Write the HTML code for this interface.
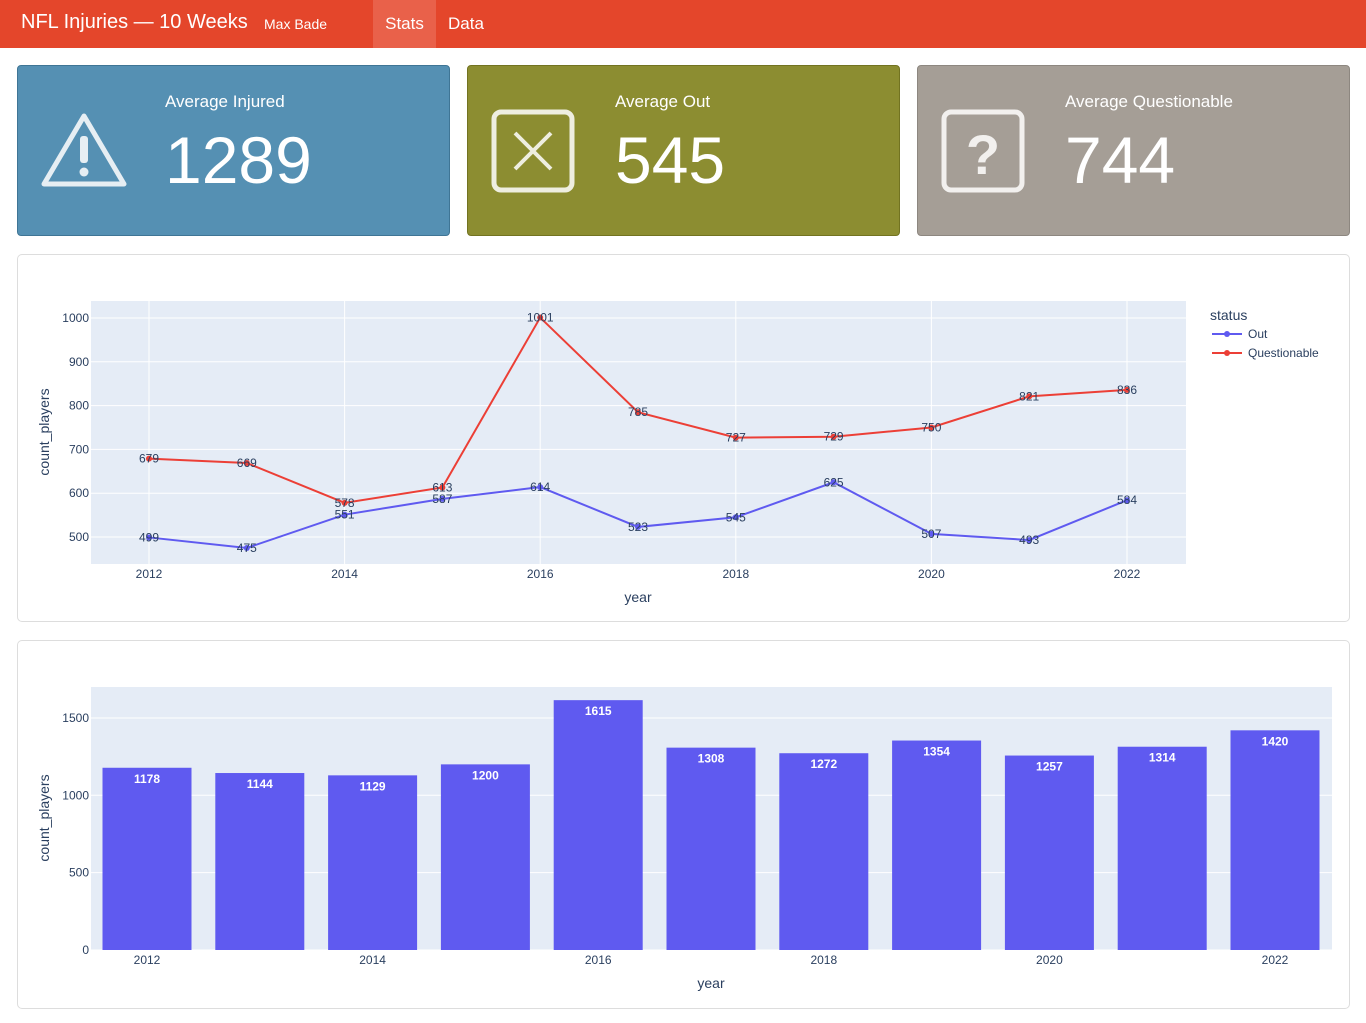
<!DOCTYPE html>
<html><head><meta charset="utf-8"><style>
body{margin:0;width:1366px;height:1023px;background:#fff;font-family:"Liberation Sans",sans-serif;overflow:hidden;position:relative}
.nav{position:absolute;left:0;top:0;width:1366px;height:48px;background:#e4462b;color:#fff}
.card{position:absolute;top:65px;height:169px;width:431px;border-radius:4px;color:#fff}
.card .t{position:absolute;left:147px;top:26px;font-size:17px}
.card .v{position:absolute;left:147px;top:56px;font-size:66px}
.panel{position:absolute;left:17px;width:1331px;border:1px solid #ddd;border-radius:5px;background:#fff}
svg text{font-family:"Liberation Sans",sans-serif}
</style></head><body>
<div class="nav">
<span style="position:absolute;left:21px;top:11px;font-size:20px">NFL Injuries — 10 Weeks</span>
<span style="position:absolute;left:264px;top:16px;font-size:14px">Max Bade</span>
<div style="position:absolute;left:373px;top:0;width:63px;height:48px;background:#e9614a;text-align:center;line-height:48px;font-size:17px">Stats</div>
<div style="position:absolute;left:448px;top:0;height:48px;line-height:48px;font-size:17px">Data</div>
</div>
<div class="card" style="left:17px;background:#5590b3;border:1px solid #3f7595">
<svg style="position:absolute;left:22px;top:46px" width="88" height="78"><path d="M44 4 L84 72 L4 72 Z" fill="none" stroke="#e6eef3" stroke-width="5" stroke-linejoin="round"/><rect x="40" y="24" width="8" height="27" rx="3" fill="#e6eef3"/><circle cx="44" cy="60" r="4.5" fill="#e6eef3"/></svg>
<div class="t">Average Injured</div><div class="v">1289</div></div>
<div class="card" style="left:467px;background:#8c8d31;border:1px solid #727321">
<svg style="position:absolute;left:22px;top:42px" width="88" height="88"><rect x="4" y="4" width="78" height="78" rx="7" fill="none" stroke="#eeeee0" stroke-width="5"/><path d="M25 25 L61 61 M61 25 L25 61" stroke="#eeeee0" stroke-width="4"/></svg>
<div class="t">Average Out</div><div class="v">545</div></div>
<div class="card" style="left:917px;background:#a59e96;border:1px solid #8d8780">
<svg style="position:absolute;left:22px;top:42px" width="88" height="88"><rect x="4" y="4" width="78" height="78" rx="7" fill="none" stroke="#f2f0ee" stroke-width="5"/><text x="43" y="66" text-anchor="middle" font-size="56" font-weight="bold" fill="#f2f0ee">?</text></svg>
<div class="t">Average Questionable</div><div class="v">744</div></div>

<div class="panel" style="top:254px;height:366px"></div>
<div class="panel" style="top:640px;height:367px"></div>
<svg id="charts" width="1366" height="1023" style="position:absolute;left:0;top:0"></svg>
<script>
const years=[2012,2013,2014,2015,2016,2017,2018,2019,2020,2021,2022];
const outVals=[499,475,551,587,614,523,545,625,507,493,584];
const questVals=[679,669,578,613,1001,785,727,729,750,821,836];
const lineYTicks=[500,600,700,800,900,1000];
const xTicks=[2012,2014,2016,2018,2020,2022];
const totals=[1178,1144,1129,1200,1615,1308,1272,1354,1257,1314,1420];
const barYTicks=[0,500,1000,1500];
const NS='http://www.w3.org/2000/svg';
const svg=document.getElementById('charts');
function mk(tag,attrs,parent,txt){const e=document.createElementNS(NS,tag);for(const k in attrs)e.setAttribute(k,attrs[k]);if(txt!==undefined)e.textContent=txt;(parent||svg).appendChild(e);return e;}
// line chart
const lx=y=>149+(y-2012)*97.8, ly=v=>537-(v-500)*0.438;
let r=mk('rect',{x:91,y:301,width:1095,height:263,fill:'#e5ecf6'});

lineYTicks.forEach(t=>{mk('line',{x1:91,x2:1186,y1:ly(t),y2:ly(t),stroke:'#fff'});
 const e=mk('text',{x:89,y:ly(t)+4,'text-anchor':'end','font-size':12,fill:'#2a3f5f'},null,t);
 });
xTicks.forEach(t=>{mk('line',{x1:lx(t),x2:lx(t),y1:301,y2:564,stroke:'#fff'});
 const e=mk('text',{x:lx(t),y:578,'text-anchor':'middle','font-size':12,fill:'#2a3f5f'},null,t);
 });
[[outVals,'#5f5af0','out-line'],[questVals,'#ec3f36','questionable-line']].forEach(([vals,c,n])=>{
 const p=mk('polyline',{points:vals.map((v,i)=>lx(years[i])+','+ly(v)).join(' '),fill:'none',stroke:c,'stroke-width':2});
 
 vals.forEach((v,i)=>{const pt=mk('circle',{cx:lx(years[i]),cy:ly(v),r:3,fill:c});
  
  const l=mk('text',{x:lx(years[i]),y:ly(v)+4,'text-anchor':'middle','font-size':12,fill:'#2a3f5f'},null,v);
  });
});
let e=mk('text',{x:638,y:602,'text-anchor':'middle','font-size':14,fill:'#2a3f5f'},null,'year');
e=mk('text',{transform:'translate(49,432) rotate(-90)','text-anchor':'middle','font-size':14,fill:'#2a3f5f'},null,'count_players');
e=mk('text',{x:1210,y:320,'font-size':14,fill:'#2a3f5f'},null,'status');
[['Out','#5f5af0',334],['Questionable','#ec3f36',353]].forEach(([n,c,y])=>{
 const g=mk('g',{});
 mk('line',{x1:1212,x2:1242,y1:y,y2:y,stroke:c,'stroke-width':2},g);mk('circle',{cx:1227,cy:y,r:3,fill:c},g);
 mk('text',{x:1248,y:y+4,'font-size':12,fill:'#2a3f5f'},g,n);});
// bar chart
const bx=y=>147+(y-2012)*112.8, by=v=>950-v*0.1547;
r=mk('rect',{x:91,y:687,width:1241,height:263,fill:'#e5ecf6'});

barYTicks.forEach(t=>{mk('line',{x1:91,x2:1332,y1:by(t),y2:by(t),stroke:'#fff'});
 const e=mk('text',{x:89,y:by(t)+4,'text-anchor':'end','font-size':12,fill:'#2a3f5f'},null,t);
 });
totals.forEach((v,i)=>{const b=mk('rect',{x:bx(years[i])-44.5,y:by(v),width:89,height:by(0)-by(v),fill:'#5f5af0'});
 
 const l=mk('text',{x:bx(years[i]),y:by(v)+15,'text-anchor':'middle','font-size':12,'font-weight':'bold',fill:'#fff'},null,v);
 });
xTicks.forEach(t=>{const e=mk('text',{x:bx(t),y:964,'text-anchor':'middle','font-size':12,fill:'#2a3f5f'},null,t);
 });
e=mk('text',{x:711,y:988,'text-anchor':'middle','font-size':14,fill:'#2a3f5f'},null,'year');
e=mk('text',{transform:'translate(49,818) rotate(-90)','text-anchor':'middle','font-size':14,fill:'#2a3f5f'},null,'count_players');
</script>
</body></html>
